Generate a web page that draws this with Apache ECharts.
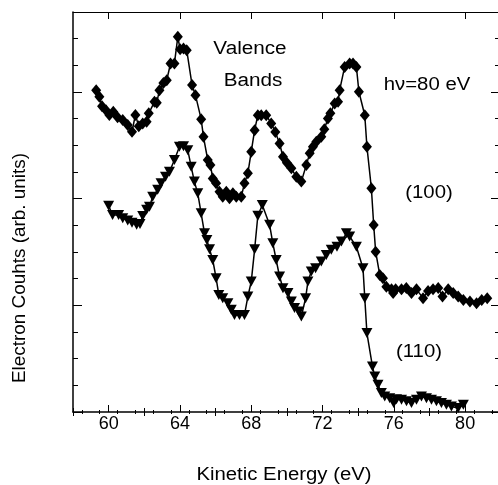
<!DOCTYPE html>
<html>
<head>
<meta charset="utf-8">
<script src="https://cdn.jsdelivr.net/npm/echarts@6/dist/echarts.min.js"></script>
<style>
  html, body { margin: 0; padding: 0; background: #fff; }
  #chart { width: 498px; height: 485px; }
</style>
</head>
<body>
<div id="chart"></div>
<script>
// (100) spectrum, diamonds
const energy100 = [59.3, 59.48, 59.63, 59.85, 60.04, 60.26, 60.5, 60.79, 61.07, 61.31, 61.5, 61.69, 61.91, 62.13, 62.25,
  62.57, 62.7, 62.85, 63.07, 63.26, 63.47, 63.69, 63.88, 64.01, 64.2, 64.38, 64.68, 64.87, 65.19, 65.32, 65.56, 65.71,
  65.84, 66.03, 66.22, 66.4, 66.6, 66.78, 66.97, 67.16, 67.44, 67.62, 67.81, 68.0, 68.19, 68.37, 68.56, 68.84, 69.12,
  69.35, 69.59, 69.78, 70.0, 70.25, 70.53, 70.81, 71.09, 71.28, 71.46, 71.65, 71.93, 72.1, 72.3, 72.44, 72.68, 72.87,
  72.96, 73.24, 73.52, 73.71, 73.9, 74.04, 74.37, 74.49, 74.74, 74.87, 74.98, 75.21, 75.39, 75.58, 75.87, 75.96, 76.1,
  76.43, 76.7, 76.99, 77.27, 77.64, 77.92, 78.2, 78.49, 78.73, 79.05, 79.33, 79.61, 79.9, 80.27, 80.64, 80.93, 81.24];
const counts100 = [12.07, 11.82, 11.47, 11.32, 11.14, 11.26, 11.05, 10.95, 10.76, 10.51, 11.14, 10.72, 10.82, 10.88, 11.2,
  11.63, 11.6, 12.07, 12.34, 12.44, 13.07, 13.07, 14.07, 13.6, 13.63, 13.57, 12.26, 11.88, 10.98, 10.32, 9.45, 9.26,
  8.76, 8.58, 8.26, 8.07, 8.26, 8.02, 8.2, 8.07, 8.07, 8.58, 8.95, 9.76, 10.57, 11.13, 11.13, 11.13, 10.82,
  10.5, 10.07, 9.57, 9.35, 9.14, 8.82, 8.64, 9.26, 9.7, 9.95, 10.13, 10.32, 10.6, 11.01, 11.2, 11.57, 11.63,
  12.07, 12.94, 13.07, 13.07, 12.94, 12.01, 11.13, 9.95, 8.39, 7.01, 6.01, 5.14, 5.02, 4.7, 4.6, 4.46, 4.6,
  4.6, 4.65, 4.46, 4.6, 4.27, 4.54, 4.6, 4.65, 4.33, 4.6, 4.46, 4.33, 4.2, 4.14, 4.08, 4.2, 4.27];

// (110) spectrum, down triangles
const energy110 = [60.0, 60.22, 60.56, 60.79, 61.07, 61.31, 61.57, 61.76, 61.91, 62.13, 62.29, 62.47, 62.75, 62.94, 63.19,
  63.41, 63.69, 63.97, 64.2, 64.44, 64.63, 64.81, 65.0, 65.19, 65.38, 65.51, 65.66, 65.84, 66.03, 66.18, 66.4, 66.69,
  66.88, 67.06, 67.34, 67.62, 67.81, 68.0, 68.19, 68.37, 68.62, 69.03, 69.21, 69.4, 69.59, 69.78, 70.06, 70.25, 70.43,
  70.67, 70.81, 71.05, 71.18, 71.37, 71.61, 71.93, 72.21, 72.49, 72.81, 73.06, 73.34, 73.52, 73.9, 74.27, 74.37, 74.49,
  74.8, 74.93, 75.11, 75.3, 75.49, 75.77, 75.99, 76.15, 76.43, 76.71, 76.99, 77.27, 77.55, 77.83, 78.11, 78.39, 78.67,
  78.95, 79.23, 79.61, 79.9];
const counts110 = [7.73, 7.39, 7.39, 7.27, 7.18, 7.1, 7.02, 7.05, 7.35, 7.58, 7.7, 8.07, 8.33, 8.58, 8.82,
  9.01, 9.45, 9.95, 9.97, 9.82, 9.2, 8.64, 8.2, 7.45, 6.7, 6.45, 6.1, 5.7, 5.02, 4.39, 4.27, 4.08,
  3.83, 3.64, 3.64, 3.64, 4.33, 4.89, 6.1, 7.36, 7.76, 7.02, 6.33, 5.7, 5.08, 4.64, 4.46, 4.14, 3.9,
  3.77, 3.58, 4.27, 4.89, 5.27, 5.39, 5.64, 5.89, 6.08, 6.2, 6.39, 6.7, 6.58, 6.2, 5.39, 4.27, 2.96,
  1.71, 1.33, 1.02, 0.71, 0.58, 0.52, 0.34, 0.48, 0.46, 0.4, 0.34, 0.46, 0.58, 0.52, 0.46, 0.4, 0.34,
  0.27, 0.21, 0.15, 0.27];

const xLabels = [60, 64, 68, 72, 76, 80];
const xMidTicks = [58, 62, 66, 70, 74, 78];
const xMinorTicks = [];
for (let v = 58.5; v < 82; v += 1) xMinorTicks.push(v);
const yMajorTicks = [0, 4, 8, 12];
const yMinorTicks = [1, 2, 3, 5, 6, 7, 9, 10, 11, 13, 14, 15];

const X_MIN = 58, X_MAX = 81.9, Y_MIN = 0, Y_MAX = 15;
const ink = '#000';
const font = '"Liberation Sans", Arial, sans-serif';

const chart = echarts.init(document.getElementById('chart'));

function xAx(position, ticks, len, opts) {
  return Object.assign({
    type: 'value', position: position, min: X_MIN, max: X_MAX,
    axisLine: { show: false },
    axisTick: { show: true, inside: true, length: len, customValues: ticks, lineStyle: { color: ink, width: 1 } },
    axisLabel: { show: false },
    splitLine: { show: false }
  }, opts || {});
}
function yAx(position, ticks, len, opts) {
  return Object.assign({
    type: 'value', position: position, min: Y_MIN, max: Y_MAX,
    axisLine: { show: false },
    axisTick: { show: true, inside: true, length: len, customValues: ticks, lineStyle: { color: ink, width: 1 } },
    axisLabel: { show: false },
    splitLine: { show: false }
  }, opts || {});
}

const option = {
  backgroundColor: '#fff',
  animation: false,
  grid: { left: 73, top: 12, width: 426, height: 400, outerBoundsMode: 'none' },
  xAxis: [
    xAx('bottom', xLabels, 7, {
      axisLine: { show: true, onZero: false, lineStyle: { color: ink, width: 1.5 } },
      axisLabel: { show: true, customValues: xLabels, color: ink, fontSize: 18, fontFamily: font, margin: 3 }
    }),
    xAx('bottom', xMidTicks, 4),
    xAx('bottom', xMinorTicks, 2),
    xAx('top', xLabels, 7, { axisLine: { show: true, onZero: false, lineStyle: { color: ink, width: 1 } } }),
    xAx('top', xMidTicks, 4),
    xAx('top', xMinorTicks, 2)
  ],
  yAxis: [
    yAx('left', yMajorTicks, 9, { axisLine: { show: true, onZero: false, lineStyle: { color: ink, width: 1.5 } } }),
    yAx('left', yMinorTicks, 5),
    yAx('right', yMajorTicks, 8),
    yAx('right', yMinorTicks, 4)
  ],
  graphic: [
    { type: 'text', x: 250, y: 49, scaleX: 1.15, style: { text: 'Valence', fill: ink, font: '18px ' + font, textAlign: 'center', textVerticalAlign: 'middle' } },
    { type: 'text', x: 253, y: 81, scaleX: 1.15, style: { text: 'Bands', fill: ink, font: '18px ' + font, textAlign: 'center', textVerticalAlign: 'middle' } },
    { type: 'text', x: 427, y: 85, scaleX: 1.13, style: { text: 'hν=80 eV', fill: ink, font: '18px ' + font, textAlign: 'center', textVerticalAlign: 'middle' } },
    { type: 'text', x: 429, y: 193, scaleX: 1.13, style: { text: '(100)', fill: ink, font: '18px ' + font, textAlign: 'center', textVerticalAlign: 'middle' } },
    { type: 'text', x: 419, y: 352, scaleX: 1.13, style: { text: '(110)', fill: ink, font: '18px ' + font, textAlign: 'center', textVerticalAlign: 'middle' } },
    { type: 'text', x: 284, y: 475, scaleX: 1.13, style: { text: 'Kinetic Energy (eV)', fill: ink, font: '18px ' + font, textAlign: 'center', textVerticalAlign: 'middle' } },
    { type: 'text', x: 20, y: 268, rotation: Math.PI / 2, scaleX: 1.05, style: { text: 'Electron Couhts (arb. units)', fill: ink, font: '18px ' + font, textAlign: 'center', textVerticalAlign: 'middle' } }
  ],
  series: [
    {
      name: '(100)', type: 'line',
      data: energy100.map((e, i) => [e, counts100[i]]),
      symbol: 'diamond', symbolSize: [10, 12],
      lineStyle: { color: ink, width: 1.5 },
      itemStyle: { color: ink }
    },
    {
      name: '(110)', type: 'line',
      data: energy110.map((e, i) => [e, counts110[i]]),
      symbol: 'triangle', symbolSize: [11, 10], symbolRotate: 180,
      lineStyle: { color: ink, width: 1.5 },
      itemStyle: { color: ink }
    }
  ]
};

chart.setOption(option);
</script>
</body>
</html>
